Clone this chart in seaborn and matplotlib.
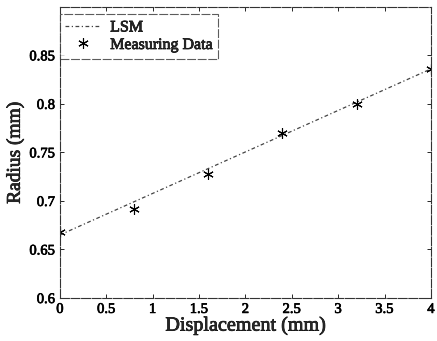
import matplotlib
matplotlib.use("Agg")
import matplotlib.pyplot as plt
import matplotlib.patheffects as pe
import seaborn as sns
import pandas as pd

disp = [0.0, 0.8, 1.6, 2.4, 3.2, 4.0]
radius = [0.668, 0.692, 0.728, 0.770, 0.800, 0.836]
lsm_x = [0.0, 4.0]
lsm_y = [0.665, 0.836]
xticks = [0, 0.5, 1, 1.5, 2, 2.5, 3, 3.5, 4]
xtick_labels = ["0", "0.5", "1", "1.5", "2", "2.5", "3", "3.5", "4"]
yticks = [0.6, 0.65, 0.7, 0.75, 0.8, 0.85]
ytick_labels = ["0.6", "0.65", "0.7", "0.75", "0.8", "0.85"]

sns.set_style("ticks")
plt.rcParams['font.family'] = ['Liberation Serif', 'DejaVu Serif']

fig = plt.figure(figsize=(4.37, 3.41), dpi=100)
ax = fig.add_axes([0.137, 0.126, 0.849, 0.854])

df_l = pd.DataFrame({"x": lsm_x, "y": lsm_y})
df_m = pd.DataFrame({"x": disp, "y": radius})
sns.lineplot(data=df_l, x="x", y="y", ax=ax, color="#444444", lw=0.9,
             linestyle=(0, (3, 2, 1, 2)), label="LSM")
sns.lineplot(data=df_m, x="x", y="y", ax=ax, color="black", lw=0,
             marker=(6, 2, 0), markersize=7.5, markeredgewidth=0.8,
             markeredgecolor="black", label="Measuring Data")

ax.set_xlim(0, 4)
ax.set_ylim(0.6, 0.9)
ax.set_xticks(xticks)
ax.set_xticklabels(xtick_labels)
ax.set_yticks(yticks)
ax.set_yticklabels(ytick_labels)
ax.tick_params(direction="in", length=3, width=0.7, labelsize=10.5, pad=3.5,
               top=True, right=True, labelcolor="black")
for s in ax.spines.values():
    s.set_visible(True)
    s.set_linewidth(0.8)
    s.set_color("#333333")
    s.set_linestyle((0, (8, 1.5)))
ax.set_xlabel("Displacement (mm)", fontsize=14.5, labelpad=0)
ax.set_ylabel("Radius (mm)", fontsize=14, labelpad=4)

leg = ax.legend(loc="upper left", bbox_to_anchor=(0, 0.976), fontsize=11.5,
                frameon=True, fancybox=False, borderaxespad=0,
                handlelength=2.2, handletextpad=0.6,
                borderpad=0.35, labelspacing=0.1)
leg.get_frame().set_edgecolor("#333333")
leg.get_frame().set_linewidth(0.8)
leg.get_frame().set_linestyle((0, (8, 1.5)))

stroke = [pe.withStroke(linewidth=0.5, foreground="black")]
for t in (ax.get_xticklabels() + ax.get_yticklabels() + leg.get_texts()
          + [ax.xaxis.label, ax.yaxis.label]):
    t.set_path_effects(stroke)

fig.savefig("out.png", dpi=100)
